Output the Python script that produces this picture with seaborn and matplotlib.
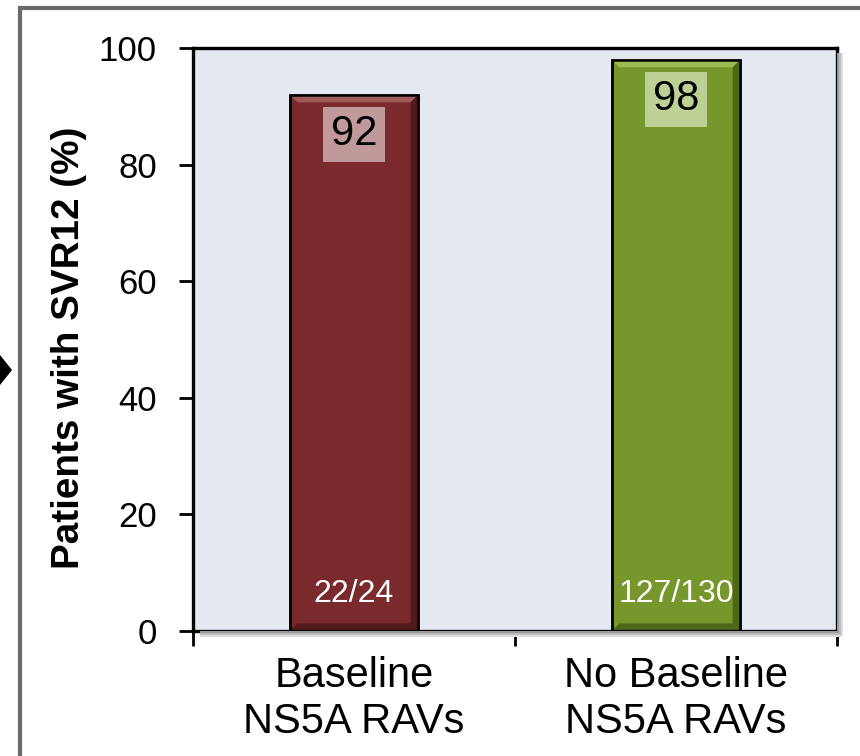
import matplotlib
matplotlib.use("Agg")
import matplotlib.pyplot as plt
import matplotlib.patches as mpatches
import seaborn as sns
import pandas as pd

groups = ["Baseline\nNS5A RAVs", "No Baseline\nNS5A RAVs"]
svr12 = [92, 98]
fractions = ["22/24", "127/130"]
bar_colors = ["#7A2A2C", "#77962B"]
light_colors = ["#A05A5B", "#9DBA55"]
dark_colors = ["#521A1C", "#4E6618"]
box_colors = ["#C09A9B", "#BDD096"]
yticks = [0, 20, 40, 60, 80, 100]

df = pd.DataFrame({"group": groups, "svr": svr12})

sns.set_style("white")
plt.rcParams["font.family"] = ["Liberation Sans", "DejaVu Sans"]
plt.rcParams.update({"text.color": "black", "axes.labelcolor": "black",
                     "xtick.color": "black", "ytick.color": "black",
                     "xtick.bottom": True, "ytick.left": True})

fig = plt.figure(figsize=(8.6, 7.56), dpi=100)
ax = fig.add_axes([0.2244, 0.1653, 0.7489, 0.7712])
ax.set_facecolor("#E4E8F0")

sns.barplot(data=df, x="group", y="svr", hue="group", palette=bar_colors,
            saturation=1, width=0.4, edgecolor="black", linewidth=1.8,
            legend=False, ax=ax, zorder=2)

# bevel look on each bar
bx, by = 0.024, 1.3
for i, p in enumerate(list(ax.patches)):
    x0, w, h = p.get_x(), p.get_width(), p.get_height()
    x1 = x0 + w
    top = [(x0, h), (x1, h), (x1 - bx, h - by), (x0 + bx, h - by)]
    right = [(x1, 0), (x1, h), (x1 - bx, h - by), (x1 - bx, by)]
    bottom = [(x0, 0), (x1, 0), (x1 - bx, by), (x0 + bx, by)]
    ax.add_patch(mpatches.Polygon(top, closed=True, fc=light_colors[i], ec="none", zorder=3))
    ax.add_patch(mpatches.Polygon(right, closed=True, fc=dark_colors[i], ec="none", zorder=3))
    ax.add_patch(mpatches.Polygon(bottom, closed=True, fc=dark_colors[i], ec="none", zorder=3))
    ax.add_patch(mpatches.Rectangle((x0, 0), w, h, fill=False, ec="black", lw=1.8, zorder=4))

for i, (v, frac) in enumerate(zip(svr12, fractions)):
    ax.text(i, v - 6.8, str(v), ha="center", va="center", fontsize=30,
            zorder=5,
            bbox=dict(boxstyle="square,pad=0.18", fc=box_colors[i], ec="none"))
    ax.text(i, 6.3, frac, ha="center", va="center", fontsize=23, color="white",
            zorder=5)

ax.set_ylim(0, 100)
ax.set_xlim(-0.5, 1.5)
ax.set_yticks(yticks)
ax.set_xticks([-0.5, 0.5, 1.5], minor=True)
ax.set_xticks([0, 1])
ax.set_xticklabels(groups, fontsize=30, linespacing=1.2)
ax.tick_params(axis="y", labelsize=25, length=10, width=2, direction="out", pad=16)
ax.tick_params(axis="x", which="major", length=0, pad=18)
ax.tick_params(axis="x", which="minor", length=11, width=2, direction="out")
ax.set_xlabel("")
ax.set_ylabel("Patients with SVR12 (%)", fontsize=27.8, fontweight="bold")
ax.yaxis.set_label_coords(-0.164, 0.486)
for s in ax.spines.values():
    s.set_visible(True)
    s.set_color("black")
    s.set_linewidth(2.4)
    s.set_zorder(6)

# soft drop shadow on right and bottom of plot area
for k, c in enumerate(["#9A9A9A", "#BDBDBD", "#DCDCDC"]):
    fig.patches.append(mpatches.Rectangle((0.9733 + k * 0.0025, 0.160), 0.0025, 0.77,
                       transform=fig.transFigure, fc=c, ec="none", zorder=0))
    fig.patches.append(mpatches.Rectangle((0.232, 0.1653 - (k + 1) * 0.0028), 0.742 + k * 0.0025,
                       0.0028, transform=fig.transFigure, fc=c, ec="none", zorder=0))

# outer frame
fig.patches.append(mpatches.Rectangle((20 / 860, -0.05), 1.0, 1 - 8 / 756 + 0.05,
                   transform=fig.transFigure, fill=False, ec="#6A6A6A", lw=3))
# arrow head at left edge
fig.patches.append(mpatches.Polygon([(0, 1 - 355 / 756), (12 / 860, 1 - 370 / 756),
                                     (0, 1 - 385 / 756)],
                   closed=True, transform=fig.transFigure, fc="black", ec="none"))

fig.savefig("out.png", dpi=100)
